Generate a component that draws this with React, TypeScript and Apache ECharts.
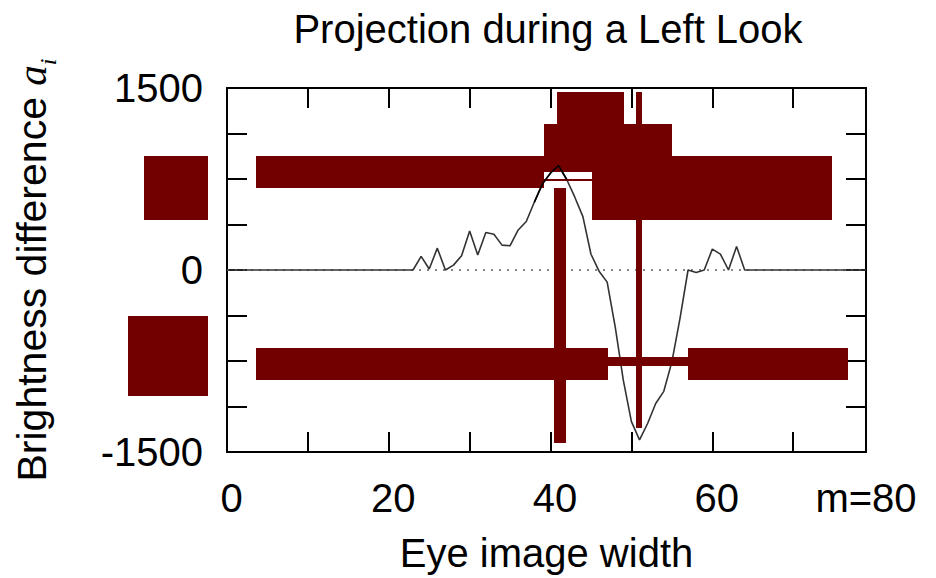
import React, { useEffect, useRef } from "react";
import * as echarts from "echarts";

// Sample index along the eye image width (0..79, m = 80 samples) -> brightness difference a_i
const brightness = [
  0, 0, 0, 0, 0, 0, 0, 0, 0, 0,
  0, 0, 0, 0, 0, 0, 0, 0, 0, 0,
  0, 0, 0, 0, 112, 8, 180, 0, 40, 117,
  322, 123, 309, 295, 205, 200, 330, 400, 560, 710,
  800, 861, 746, 600, 440, 130, -10, -100, -470, -910,
  -1250, -1400, -1265, -1100, -1000, -757, -400, 0, -20, 0,
  172, 131, 0, 194, 0, 0, 0, 0, 0, 0,
  0, 0, 0, 0, 0, 0, 0, 0, 0, 0,
];

const xMax = 79;
const xTickValues = [0, 20, 40, 60, 79];
const xTickLabels = ["0", "20", "40", "60", "m=80"];
const yTickValues = [-1500, 0, 1500];
const yTickLabels = ["-1500", "0", "1500"];
const peakOverlayFrom = 38;
const peakOverlayTo = 42;

export default function App() {
  const ref = useRef<HTMLDivElement>(null);

  useEffect(() => {
    const chart = echarts.init(ref.current as HTMLDivElement, null, { renderer: "svg" });
    const font = "'Liberation Sans', Arial, Helvetica, sans-serif";
    const red = "#720000";
    const curve = brightness.map((v, i) => [i, v]);
    const peak = curve.slice(peakOverlayFrom, peakOverlayTo + 1);

    const xLabel = (v: number) => {
      const k = xTickValues.indexOf(v);
      if (k < 0) return "";
      return v === xMax ? xTickLabels[k] : `{s|${xTickLabels[k]}}`;
    };
    const yLabel = (v: number) => {
      const k = yTickValues.indexOf(v);
      return k >= 0 ? yTickLabels[k] : "";
    };

    // overlay blocks (layout, in pixels)
    const boxes = [
      [144, 156, 64, 64],
      [128, 316, 80, 80],
      [256, 156, 288, 32],
      [544, 124, 128, 48],
      [544, 179, 48, 2],
      [592, 156, 240, 64],
      [557, 92, 67, 32],
      [636, 92, 6, 336],
      [554, 188, 12, 255],
      [256, 348, 352, 32],
      [608, 357, 80, 9],
      [688, 348, 160, 32],
    ];

    const axisLine = { show: true, onZero: false, lineStyle: { color: "#000", width: 2 } };
    const axisTick = { show: true, inside: true, length: 20, lineStyle: { color: "#000", width: 2 } };
    const labelStyle = { fontFamily: font, fontSize: 40, color: "#000" };

    chart.setOption({
      animation: false,
      title: {
        text: "Projection during a Left Look",
        left: 548,
        top: 9,
        padding: 0,
        textAlign: "center",
        textStyle: { fontFamily: font, fontSize: 40, fontWeight: "normal", color: "#000" },
      },
      grid: { left: 227, top: 88, width: 639, height: 366 },
      xAxis: [
        {
          type: "value",
          min: 0,
          max: xMax,
          interval: 10,
          position: "bottom",
          name: "Eye image width",
          nameLocation: "middle",
          nameGap: 81,
          nameTextStyle: labelStyle,
          axisLine,
          axisTick,
          axisLabel: {
            ...labelStyle,
            margin: 26,
            formatter: xLabel,
            rich: { s: { ...labelStyle, padding: [0, 0, 0, 9] } },
          },
          splitLine: { show: false },
        },
        {
          type: "value",
          min: 0,
          max: xMax,
          interval: 10,
          position: "top",
          axisLine,
          axisTick,
          axisLabel: { show: false },
          splitLine: { show: false },
        },
      ],
      yAxis: [
        {
          type: "value",
          min: -1500,
          max: 1500,
          interval: 375,
          position: "left",
          name: "Brightness difference {a|a}{s|i}",
          nameLocation: "middle",
          nameRotate: 90,
          nameGap: 175,
          nameTextStyle: {
            ...labelStyle,
            fontSize: 41,
            rich: {
              a: { fontFamily: "'Liberation Serif', 'DejaVu Serif', serif", fontStyle: "italic", fontSize: 41, color: "#000" },
              s: { fontFamily: "'Liberation Serif', 'DejaVu Serif', serif", fontStyle: "italic", fontSize: 24, color: "#000", verticalAlign: "bottom", padding: [0, 0, -8, 0] },
            },
          },
          axisLine,
          axisTick,
          axisLabel: { ...labelStyle, margin: 24, formatter: yLabel },
          splitLine: { show: false },
        },
        {
          type: "value",
          min: -1500,
          max: 1500,
          interval: 375,
          position: "right",
          axisLine,
          axisTick,
          axisLabel: { show: false },
          splitLine: { show: false },
        },
      ],
      series: [
        {
          type: "line",
          xAxisIndex: 0,
          yAxisIndex: 0,
          data: [[0, 0], [xMax, 0]],
          symbol: "none",
          silent: true,
          z: 1,
          lineStyle: { color: "#888", width: 2, type: [2, 6] },
        },
        {
          type: "line",
          xAxisIndex: 0,
          yAxisIndex: 0,
          data: curve,
          symbol: "none",
          z: 2,
          lineStyle: { color: "#333", width: 1.6 },
        },
        {
          type: "line",
          xAxisIndex: 0,
          yAxisIndex: 0,
          data: peak,
          symbol: "none",
          z: 200,
          lineStyle: { color: "#000", width: 1.6 },
        },
      ],
      graphic: boxes.map(([x, y, w, h]) => ({
        type: "rect",
        z: 100,
        silent: true,
        shape: { x, y, width: w, height: h },
        style: { fill: red },
      })),
    });

    return () => chart.dispose();
  }, []);

  return (
    <div
      ref={ref}
      style={{ position: "fixed", left: 0, top: 0, width: 936, height: 578, background: "#fff" }}
    />
  );
}
